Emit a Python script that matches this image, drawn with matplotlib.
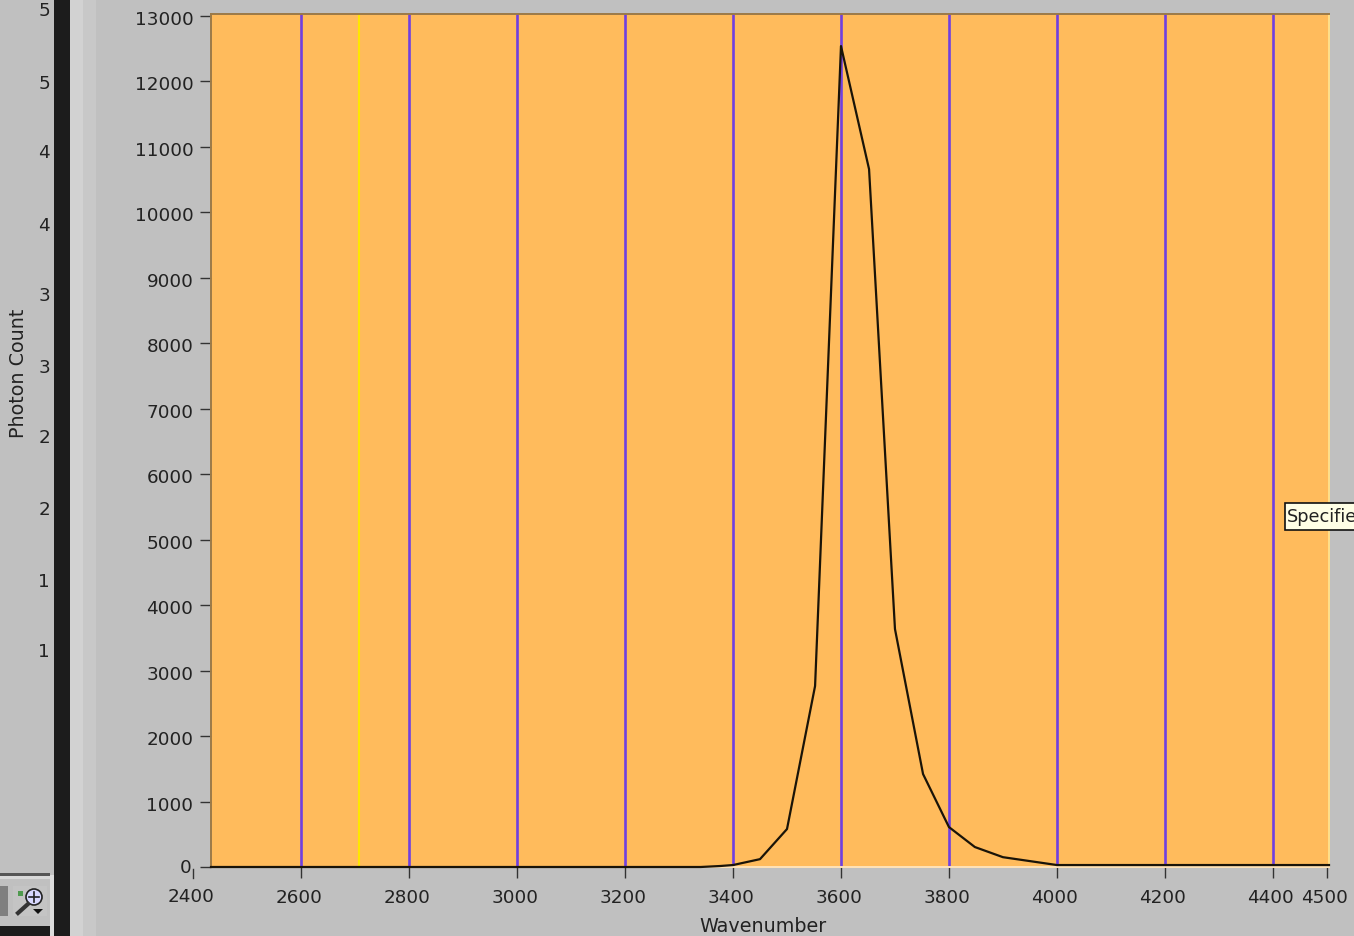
import matplotlib
matplotlib.use('Agg')
import matplotlib.pyplot as plt
from matplotlib.patches import Rectangle, Circle, Polygon
from matplotlib.transforms import ScaledTranslation

W, H = 1354, 937

# Spectrum
wavenumber = [2433, 3340, 3376, 3400, 3450, 3500, 3552, 3600, 3652, 3700, 3752, 3800, 3848, 3900, 3950, 4000, 4504]
photon_count = [0, 0, 15, 30, 120, 580, 2765, 12540, 10660, 3635, 1420, 610, 305, 150, 90, 30, 30]

purple_lines = [2600, 2800, 3000, 3200, 3400, 3600, 3800, 4000, 4200, 4400]
yellow_line = 2707

x_ticks = [2600, 2800, 3000, 3200, 3400, 3600, 3800, 4000, 4200, 4400, 4500]
y_ticks = list(range(0, 14000, 1000))
side_labels = ['5', '5', '4', '4', '3', '3', '2', '2', '1', '1']
side_label_y = [11, 84, 153, 226, 296, 368, 438, 510, 582, 652]

bg = '#c0c0c0'
txt = '#222222'
plt.rcParams['font.family'] = ['DejaVu Sans']
plt.rcParams['font.size'] = 13.2

fig = plt.figure(figsize=(W / 100, H / 100), dpi=100, facecolor=bg)

# window chrome, in pixel coordinates
ch = fig.add_axes([0, 0, 1, 1], zorder=0)
ch.set_xlim(0, W)
ch.set_ylim(H, 0)
ch.axis('off')
ch.add_patch(Rectangle((54, 0), 16, H, color='#1c1c1c', lw=0))
ch.add_patch(Rectangle((70, 0), 13, H, color='#d2d2d2', lw=0))
ch.add_patch(Rectangle((83, 0), 13, H, color='#c8c8c8', lw=0))
ch.add_patch(Rectangle((0, 874), 50, 3, color='#555555', lw=0))
ch.add_patch(Rectangle((0, 877), 50, 3, color='#d8d8d8', lw=0))
ch.add_patch(Rectangle((0, 927), 50, 10, color='#1c1c1c', lw=0))
ch.add_patch(Rectangle((50, 876), 4, 61, color='#dddddd', lw=0))
ch.add_patch(Rectangle((0, 887), 8, 30, color='#7f7f7f', lw=0))
ch.add_patch(Rectangle((13, 887), 34, 30, color='#c4c4c4', lw=0))
ch.add_patch(Rectangle((18, 892), 5, 5, color='#4f9a4f', lw=0))
ch.plot([18, 28], [914, 905], color='#333333', lw=3)
ch.add_patch(Circle((34, 898), 8, fc='#d8d8ff', ec='#222222', lw=1.2))
ch.plot([29, 39], [898, 898], color='#222222', lw=1.2)
ch.plot([34, 34], [893, 903], color='#222222', lw=1.2)
ch.add_patch(Polygon([[33, 910], [43, 910], [38, 915]], color='#111111', lw=0))

for label, py in zip(side_labels, side_label_y):
    ch.text(44, py, label, ha='center', va='center', color=txt)
ch.text(19, 373, 'Photon Count', rotation=90, ha='center', va='center', color=txt, fontsize=13.8)
ch.text(763, 927, 'Wavenumber', ha='center', va='center', color=txt, fontsize=13.8)

# plot area: 211..1329 px wide, 15..868 px high
ax = fig.add_axes([211 / W, 1 - 868 / H, (1329 - 211) / W, (868 - 15) / H], zorder=1)
ax.set_facecolor('#ffbb5c')
ax.set_xlim(2433, 4504)
ax.set_ylim(0, 13030)

for x in purple_lines:
    ax.axvline(x, color='#7040e0', lw=1.9, zorder=1)
ax.axvline(yellow_line, color='#ffe600', lw=1.5, zorder=1)
ax.plot(wavenumber, photon_count, color='#1a1408', lw=1.6, zorder=3, clip_on=False)

ax.set_xticks(x_ticks)
ax.set_yticks(y_ticks)
ax.tick_params(axis='x', length=8, width=1.0, color='#333333', labelcolor=txt, pad=6)
ax.tick_params(axis='y', length=8, width=1.0, color='#333333', labelcolor=txt, pad=4)
ax.get_yticklabels()[0].set_visible(False)

# tick labels sit a couple of pixels off their ticks on the original
for lab in ax.get_xticklabels():
    lab.set_transform(lab.get_transform() + ScaledTranslation(-2 / 100, -2 / 100, fig.dpi_scale_trans))
for lab in ax.get_yticklabels():
    lab.set_transform(lab.get_transform() + ScaledTranslation(-1 / 100, -1 / 100, fig.dpi_scale_trans))

ax.spines['top'].set_color('#9c7a48')
ax.spines['left'].set_color('#9c7a48')
ax.spines['right'].set_color('#ffe08a')
ax.spines['bottom'].set_color('#ffe3b8')
for s in ax.spines.values():
    s.set_linewidth(1.4)

# the 2400 mark sits left of the plot area, as on the original
trans = ax.get_xaxis_transform()
ax.plot([2400, 2400], [-0.002, -0.013], transform=trans, color='#333333', lw=1.0, clip_on=False)
ch.text(191, 897, '2400', ha='center', va='center', color=txt)
ch.text(186, 868, '0', ha='center', va='center', color=txt)

# clipped tooltip at the right edge
ch2 = fig.add_axes([0, 0, 1, 1], zorder=2)
ch2.set_xlim(0, W)
ch2.set_ylim(H, 0)
ch2.axis('off')
ch2.patch.set_alpha(0)
ch2.add_patch(Rectangle((1285, 504), 80, 27, fc='#ffffe6', ec='#111111', lw=1.2))
ch2.text(1287, 517, 'Specifie', ha='left', va='center', color=txt, fontsize=12.8)

fig.savefig('out.png', dpi=100, facecolor=bg)
